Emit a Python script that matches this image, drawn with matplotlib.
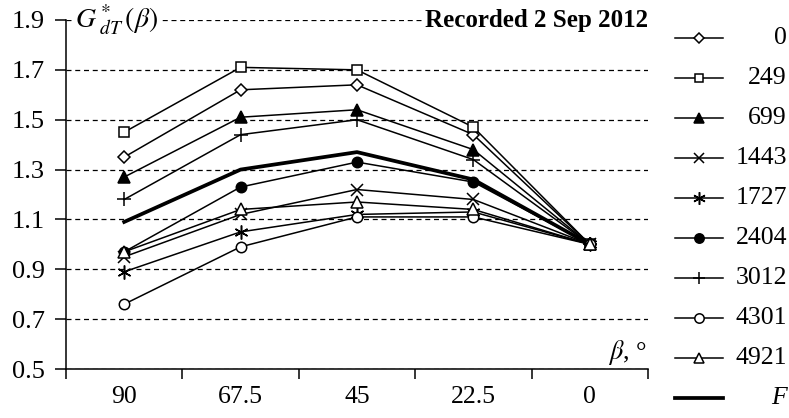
# Angular profile of G*dT(beta) for a set of readings, plus the mean curve F

import matplotlib
matplotlib.use("Agg")
import matplotlib.pyplot as plt

plt.rcParams['font.family'] = ['Liberation Serif', 'DejaVu Serif']
plt.rcParams['mathtext.fontset'] = 'stix'

# Data
beta_labels = ['90', '67.5', '45', '22.5', '0']
series_names = ['0', '249', '699', '1443', '1727', '2404', '3012', '4301', '4921']
s0 = [1.35, 1.62, 1.64, 1.44, 1.00]
s249 = [1.45, 1.71, 1.70, 1.47, 1.00]
s699 = [1.27, 1.51, 1.54, 1.38, 1.00]
s1443 = [0.95, 1.12, 1.22, 1.18, 1.00]
s1727 = [0.89, 1.05, 1.12, 1.13, 1.00]
s2404 = [0.97, 1.23, 1.33, 1.25, 1.00]
s3012 = [1.18, 1.44, 1.50, 1.34, 1.00]
s4301 = [0.76, 0.99, 1.11, 1.11, 1.00]
s4921 = [0.97, 1.14, 1.17, 1.14, 1.00]
f_mean = [1.09, 1.30, 1.37, 1.26, 1.00]
series_values = [s0, s249, s699, s1443, s1727, s2404, s3012, s4301, s4921]
y_ticks = [0.5, 0.7, 0.9, 1.1, 1.3, 1.5, 1.7, 1.9]

# marker style for each series: (marker, size, facecolor)
marker_styles = [('D', 6, 'white'), ('s', 7, 'white'), ('^', 8, 'black'),
                 ('x', 8, 'black'), ((6, 2, 0), 10, 'black'), ('o', 7.5, 'black'),
                 ('+', 10, 'black'), ('o', 7.5, 'white'), ('^', 8, 'white')]

fig = plt.figure(figsize=(7.89, 4.18), dpi=100)
ax = fig.add_axes([66/789, 49/418, 582/789, 349/418])

x = list(range(len(beta_labels)))
for vals, (m, ms, fc) in zip(series_values, marker_styles):
    ax.plot(x, vals, color='black', lw=1.1, marker=m, ms=ms, mfc=fc, mec='black', mew=1.1)
ax.plot(x, f_mean, color='black', lw=2.7, zorder=1.5)

ax.set_xlim(-0.5, len(beta_labels) - 0.5)
ax.set_ylim(0.5, 1.9)
ax.set_yticks(y_ticks)
ax.set_yticklabels([f'{v:.1f}' for v in y_ticks])
ax.set_xticks([i - 0.5 for i in range(len(beta_labels) + 1)])
ax.set_xticklabels([])
ax.set_xticks(x, minor=True)
ax.set_xticklabels(beta_labels, minor=True)
ax.tick_params(axis='x', which='major', direction='out', length=7, width=1.1)
ax.tick_params(axis='x', which='minor', length=0, pad=12, labelsize=18.5)
ax.tick_params(axis='y', direction='out', length=8, width=1.1, pad=7, labelsize=19)

ax.spines['top'].set_visible(False)
ax.spines['right'].set_visible(False)
ax.spines['left'].set_linewidth(1.1)
ax.spines['bottom'].set_linewidth(1.1)
ax.yaxis.grid(True, color='black', lw=0.9, linestyle=(0, (4, 3)))
ax.set_axisbelow(True)

ax.text(0.016, 1.0, r'$G^*_{\ dT}\,(\beta)$', transform=ax.transAxes, ha='left', va='center',
        fontsize=20, bbox=dict(facecolor='white', edgecolor='none', pad=1))
ax.text(1.0, 1.0, 'Recorded 2 Sep 2012', transform=ax.transAxes, ha='right', va='center',
        fontsize=18, fontweight='bold', bbox=dict(facecolor='white', edgecolor='none', pad=1))
ax.text(0.998, 0.046, r'$\beta$, °', transform=ax.transAxes, ha='right', va='center', fontsize=19)

# hand-made legend on the right, samples centred on the line
lax = fig.add_axes([0, 0, 1, 1], facecolor='none')
lax.set_xlim(0, 789)
lax.set_ylim(418, 0)
lax.axis('off')
for i, (name, (m, ms, fc)) in enumerate(zip(series_names, marker_styles)):
    yy = 38 + 40 * i
    lax.plot([675, 699, 723], [yy, yy, yy], color='black', lw=1.1, marker=m, ms=ms * 0.9,
             mfc=fc, mec='black', mew=1.1, markevery=[1])
    lax.text(787, yy, name, ha='right', va='center', fontsize=18.5)
yy = 38 + 40 * len(series_names)
lax.plot([675, 723], [yy, yy], color='black', lw=2.7)
lax.text(787, yy, 'F', ha='right', va='center', fontsize=18.5, style='italic')

plt.savefig('out.png', dpi=100)
